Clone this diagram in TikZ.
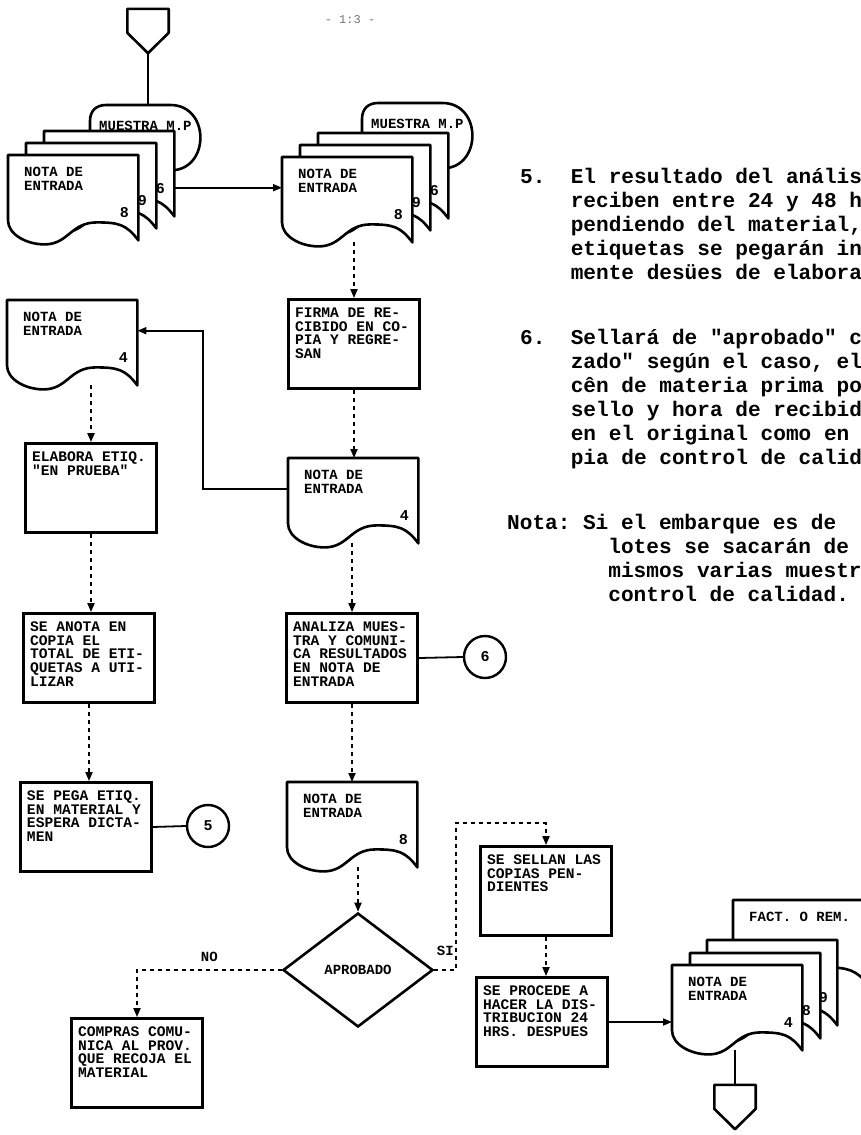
\documentclass[tikz,border=0pt]{standalone}
\usepackage{fontspec}
\setmainfont{Liberation Mono}[Ligatures=TeXOff]
\usetikzlibrary{arrows.meta, positioning, shapes.geometric, calc}

\newcommand{\boxtxt}[1]{\parbox[t][72pt][t]{118pt}{\raggedright\bfseries\fontsize{14.6}{13.6}\selectfont #1}}

% sheet with a wavy lower edge
\newcommand{\sheet}[1]{%
  \draw[docline] (#1.north west) -- (#1.north east) -- (#1.south east)
    .. controls +(-12,-16) and +(22,0) .. ($(#1.south west)!0.68!(#1.south east)+(0,-18)$)
    .. controls +(-26,0) and +(24,0) .. ($(#1.south west)!0.28!(#1.south east)+(0,4)$)
    .. controls +(-18,0) and +(0,14) .. ($(#1.south west)+(0,-20)$) -- cycle;}

\newcommand{\paper}[3]{%
  \sheet{#1}
  \node[doclabel] (#1-t) at ($(#1.north west)+(16,12)$) {#2};
  \node[docnum] (#1-n) at ($(#1.south east)+(-14,-28)$) {#3};}

% sample container behind a stack
\newcommand{\sample}[1]{%
  \draw[docline] (#1.south west) -- ($(#1.north west)+(0,16)$)
    .. controls +(0,-10) and +(-10,0) .. ($(#1.north west)+(16,0)$)
    -- ($(#1.north east)+(-30,0)$)
    .. controls +(40,0) and +(40,0) .. ($(#1.south east)+(-30,0)$) -- cycle;
  \node[doclabel, anchor=west] (#1-t) at ($(#1.west)+(9,-12)$) {MUESTRA M.P};}

% off-page connector
\newcommand{\offpage}[1]{%
  \draw[docline] (#1.north west) -- (#1.north east) -- ($(#1.north east)+(0,24)$)
    -- (#1.south) -- ($(#1.north west)+(0,24)$) -- cycle;}

\begin{document}
\begin{tikzpicture}[x=1pt, y=-1pt,
  docline/.style={line width=2.6pt, fill=white, line join=round},
  flow/.style={line width=1.8pt},
  dashflow/.style={line width=1.8pt, dash pattern=on 4pt off 4pt},
  tip/.style={-{Triangle[length=9pt, width=7pt]}},
  procbox/.style={draw, line width=2.8pt, minimum width=131pt, minimum height=89pt, inner sep=5pt},
  docnode/.style={minimum width=130pt, minimum height=85pt, inner sep=0pt, anchor=north west},
  samplenode/.style={minimum width=110pt, minimum height=65pt, inner sep=0pt, anchor=north west},
  offnode/.style={minimum width=41pt, minimum height=44pt, inner sep=0pt},
  doclabel/.style={anchor=north west, align=left, inner sep=0pt, font=\bfseries\fontsize{14}{13.5}\selectfont},
  docnum/.style={inner sep=0pt, font=\bfseries\fontsize{15}{15}\selectfont},
  decision/.style={draw, diamond, aspect=1.3, line width=2.6pt, minimum width=150pt, minimum height=114pt, inner sep=0pt, font=\bfseries\fontsize{14}{14}\selectfont},
  joiner/.style={draw, circle, line width=2.4pt, minimum size=42pt, inner sep=0pt, font=\bfseries\fontsize{15}{15}\selectfont},
  flowlabel/.style={font=\bfseries\fontsize{14}{14}\selectfont},
  note/.style={anchor=north west, inner sep=0pt, font=\bfseries\fontsize{21.1}{24}\selectfont},
]
\useasboundingbox (0,0) rectangle (861,1135);
\clip (0,0) rectangle (861,1135);

\node[text=black!55, font=\fontsize{12}{12}\selectfont] (pagenum) at (350,20) {- 1:3 -};

% first stack
\node[offnode] (topc) at (148,31) {};
\offpage{topc}
\node[samplenode] (LM) at (90,105) {};
\sample{LM}
\node[docnode] (L3) at (44,131) {};
\paper{L3}{}{6}
\node[docnode] (L2) at (26,143) {};
\paper{L2}{}{9}
\node[docnode] (L1) at (8,155) {};
\paper{L1}{NOTA DE\\ENTRADA}{8}

% second stack
\node[samplenode] (MM) at (362,103) {};
\sample{MM}
\node[docnode] (M3) at (318,133) {};
\paper{M3}{}{6}
\node[docnode] (M2) at (300,145) {};
\paper{M2}{}{9}
\node[docnode] (M1) at (282,157) {};
\paper{M1}{NOTA DE\\ENTRADA}{8}

\node[docnode] (LD) at (7,300) {};
\paper{LD}{NOTA DE\\ENTRADA}{4}
\node[docnode] (MD4) at (288,458) {};
\paper{MD4}{NOTA DE\\ENTRADA}{4}
\node[docnode] (MD8) at (287,782) {};
\paper{MD8}{NOTA DE\\ENTRADA}{8}

\node[procbox] (firma) at (354,344) {\boxtxt{FIRMA DE RE-\\CIBIDO EN CO-\\PIA Y REGRE-\\SAN}};
\node[procbox] (elab) at (91,488) {\boxtxt{ELABORA ETIQ.\\"EN PRUEBA"}};
\node[procbox] (anota) at (89,658) {\boxtxt{SE ANOTA EN\\COPIA EL\\TOTAL DE ETI-\\QUETAS A UTI-\\LIZAR}};
\node[procbox] (pega) at (86,827) {\boxtxt{SE PEGA ETIQ.\\EN MATERIAL Y\\ESPERA DICTA-\\MEN}};
\node[procbox] (analiza) at (352,658) {\boxtxt{ANALIZA MUES-\\TRA Y COMUNI-\\CA RESULTADOS\\EN NOTA DE\\ENTRADA}};
\node[procbox] (compras) at (137,1063) {\boxtxt{COMPRAS COMU-\\NICA AL PROV.\\QUE RECOJA EL\\MATERIAL}};
\node[procbox] (sellan) at (546,891) {\boxtxt{SE SELLAN LAS\\COPIAS PEN-\\DIENTES}};
\node[procbox] (procede) at (542,1022) {\boxtxt{SE PROCEDE A\\HACER LA DIS-\\TRIBUCION 24\\HRS. DESPUES}};

\node[joiner] (c5) at (208,826) {5};
\node[joiner] (c6) at (485,657) {6};
\node[decision] (aprob) at (358,970) {APROBADO};

% last stack
\node[docnode, minimum width=135pt] (RF) at (733,900) {};
\paper{RF}{FACT. O REM.}{}
\node[docnode] (R3) at (707,940) {};
\paper{R3}{}{9}
\node[docnode] (R2) at (690,953) {};
\paper{R2}{}{8}
\node[docnode] (R1) at (672,965) {};
\paper{R1}{NOTA DE\\ENTRADA}{4}
\node[offnode] (botc) at (735,1107) {};
\offpage{botc}

% connectors
\draw[flow] (topc.south) -- (topc.south |- LM.north);
\draw[flow, tip] ($(L3.east)+(0,14)$) -- ($(M1.west)+(0,-12)$);
\draw[dashflow, tip] (firma.north |- M1.south) -- (firma.north);
\draw[dashflow, tip] (firma.south) -- (firma.south |- MD4.north);
\draw[flow, tip] ($(MD4.west)+(0,-12)$) -- ++(-85,0) |- ($(LD.east)+(0,-12)$);
\draw[dashflow, tip] (elab.north |- LD.south) -- (elab.north);
\draw[dashflow, tip] (elab.south) -- (elab.south |- anota.north);
\draw[dashflow, tip] (anota.south) -- (anota.south |- pega.north);
\draw[flow] (pega.east) -- (c5.west);
\draw[dashflow, tip] (analiza.north |- MD4.south) -- (analiza.north);
\draw[flow] (analiza.east) -- (c6.west);
\draw[dashflow, tip] (analiza.south) -- (analiza.south |- MD8.north);
\draw[dashflow, tip] (aprob.north |- MD8.south) -- (aprob.north);
\draw[dashflow, tip] (aprob.west) -| node[flowlabel, pos=0.25, above=4pt] (nolbl) {NO} (compras.north);
\draw[dashflow, tip] (aprob.east) -- node[flowlabel, above=10pt] (silbl) {SI} ++(22,0)
  |- ($(sellan.north)+(0,-22)$) -- (sellan.north);
\draw[dashflow, tip] (sellan.south) -- (sellan.south |- procede.north);
\draw[flow, tip] (procede.east) -- (procede.east -| R1.west);
\draw[flow] (botc.north |- R1.south) -- (botc.north);

% notes at the right
\node[note] (p5) at (520,166) {\begin{tabular}{@{}p{50.6pt}@{}l@{}}
  5. & El resultado del anális\\
     & reciben entre 24 y 48 h\\
     & pendiendo del material,\\
     & etiquetas se pegarán in\\
     & mente desües de elabora
  \end{tabular}};
\node[note] (p6) at (520,327) {\begin{tabular}{@{}p{50.6pt}@{}l@{}}
  6. & Sellará de "aprobado" c\\
     & zado" según el caso, el\\
     & cên de materia prima po\\
     & sello y hora de recibid\\
     & en el original como en\\
     & pia de control de calid
  \end{tabular}};
\node[note] (pn) at (507,512) {\begin{tabular}{@{}p{75.9pt}@{}l@{}}
  Nota: & Si el embarque es de\\
        & \hspace*{25.3pt}lotes se sacarán de\\
        & \hspace*{25.3pt}mismos varias muestr\\
        & \hspace*{25.3pt}control de calidad.
  \end{tabular}};
\end{tikzpicture}
\end{document}
